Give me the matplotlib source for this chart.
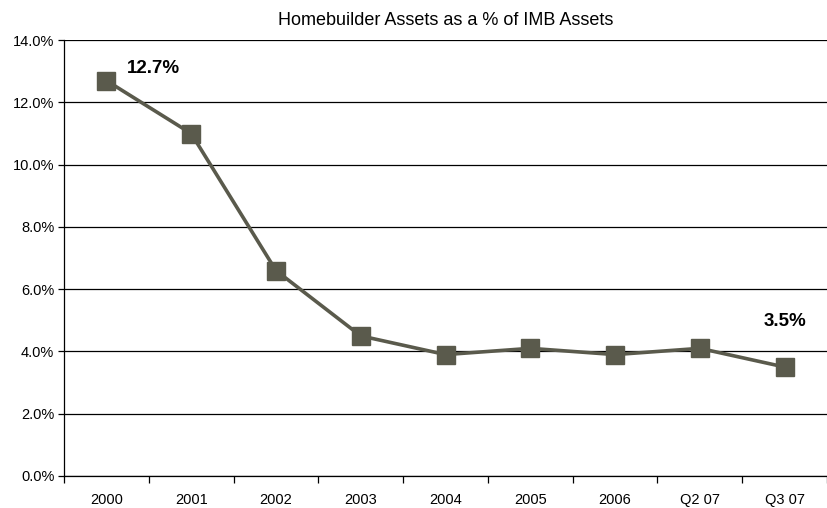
import numpy as np
import matplotlib
matplotlib.use("Agg")
import matplotlib.pyplot as plt
from matplotlib.ticker import FuncFormatter, FixedLocator

plt.rcParams['font.family'] = ['Liberation Sans', 'DejaVu Sans']

periods = ["2000", "2001", "2002", "2003", "2004", "2005", "2006", "Q2 07", "Q3 07"]
share_pct = [12.7, 11.0, 6.6, 4.5, 3.9, 4.1, 3.9, 4.1, 3.5]
y_ticks = [0, 2, 4, 6, 8, 10, 12, 14]

line_color = '#5a5a4c'

fig = plt.figure(figsize=(8.27, 5.08), dpi=100)
ax = fig.add_axes([0.0774, 0.063, 0.9226, 0.858])

x = np.arange(len(periods))
ax.plot(x, share_pct, color=line_color, linewidth=2.6, marker='s',
        markersize=12.5, markerfacecolor=line_color, markeredgecolor=line_color,
        zorder=3)

ax.set_xlim(-0.5, len(periods) - 0.5)
ax.set_ylim(0, 14)
ax.set_yticks(y_ticks)
ax.yaxis.set_major_formatter(FuncFormatter(lambda v, _: f"{v:.1f}%"))
ax.grid(axis='y', color='black', linewidth=0.9)
ax.set_axisbelow(True)

# category labels centred, tick marks between categories
ax.set_xticks(x)
ax.set_xticklabels(periods, fontsize=10.5)
ax.tick_params(axis='x', length=0, pad=12)
ax.xaxis.set_minor_locator(FixedLocator(np.arange(-0.5, len(periods), 1.0)))
ax.tick_params(axis='x', which='minor', length=5, direction='out', width=0.9)
ax.tick_params(axis='y', length=4, width=0.9, labelsize=10.5, pad=3)

for side in ['top', 'right']:
    ax.spines[side].set_visible(False)
for side in ['left', 'bottom']:
    ax.spines[side].set_linewidth(0.9)

ax.set_title("Homebuilder Assets as a % of IMB Assets", fontsize=13, pad=11)

ax.annotate(f"{share_pct[0]:.1f}%", (x[0], share_pct[0]), xytext=(15, 9),
            textcoords='offset points', fontsize=13.5, fontweight='bold',
            ha='left', va='center')
ax.annotate(f"{share_pct[-1]:.1f}%", (x[-1], share_pct[-1]), xytext=(0, 33),
            textcoords='offset points', fontsize=13.5, fontweight='bold',
            ha='center', va='center')

fig.savefig("out.png", dpi=100)
